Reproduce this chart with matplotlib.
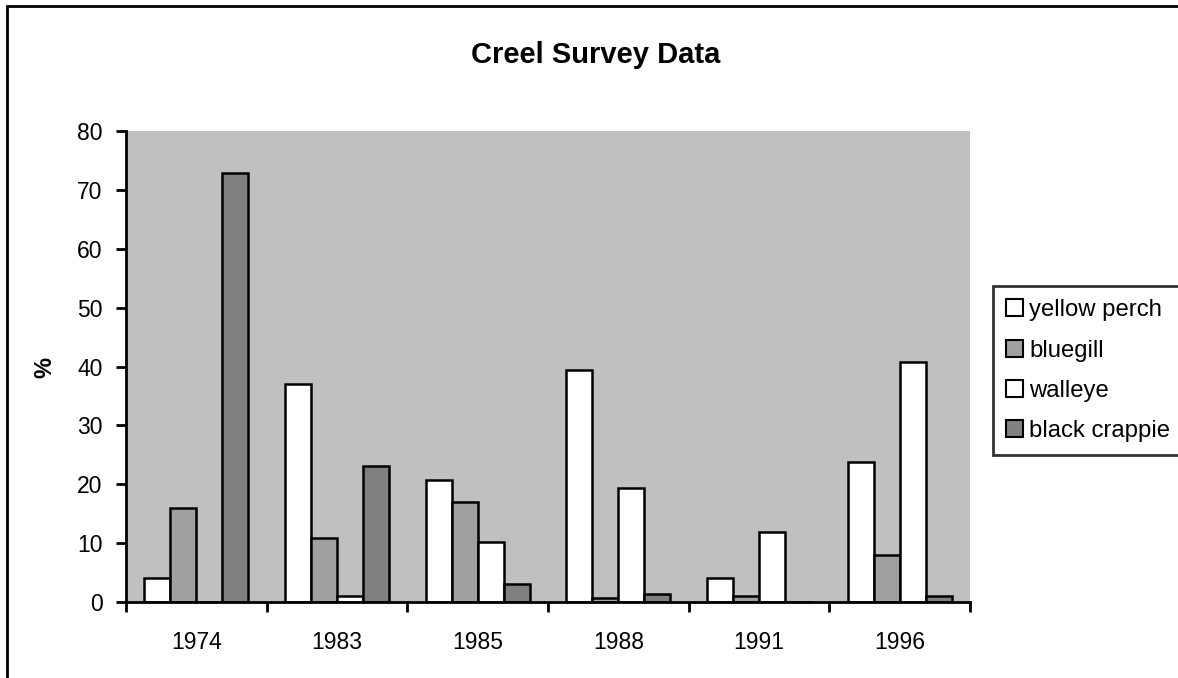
import numpy as np
import matplotlib
matplotlib.use("Agg")
import matplotlib.pyplot as plt
from matplotlib.patches import Rectangle

plt.rcParams['font.family'] = ['Liberation Sans', 'DejaVu Sans']

years = ["1974", "1983", "1985", "1988", "1991", "1996"]
yellow_perch = [4.1, 37.1, 20.8, 39.4, 4.1, 23.8]
bluegill = [16.0, 10.9, 17.0, 0.7, 1.1, 7.9]
walleye = [0.0, 1.1, 10.2, 19.4, 11.9, 40.8]
black_crappie = [72.8, 23.1, 3.1, 1.4, 0.0, 1.1]

series = [("yellow perch", yellow_perch, "white"),
          ("bluegill", bluegill, "#a0a0a0"),
          ("walleye", walleye, "white"),
          ("black crappie", black_crappie, "#808080")]

fig = plt.figure(figsize=(11.78, 6.78), dpi=100)
ax = fig.add_axes([126/1178, 1-602/678, 844/1178, 471/678])
ax.set_facecolor("#c0c0c0")

x = np.arange(len(years))
w = 0.185
for i, (name, vals, col) in enumerate(series):
    ax.bar(x + (i - 1.5) * w, vals, w, color=col, edgecolor="black",
           linewidth=1.8, label=name, zorder=3)

ax.set_xlim(-0.5, len(years) - 0.5)
ax.set_ylim(0, 80)
ax.set_yticks(range(0, 81, 10))
ax.set_xticks(x)
ax.set_xticklabels(years)
ax.set_xticks(np.arange(-0.5, len(years), 1), minor=True)
ax.tick_params(axis='x', which='major', length=0, pad=21, labelsize=16.5)
ax.tick_params(axis='x', which='minor', length=7, width=2, direction='out')
ax.tick_params(axis='y', length=7, width=2, direction='out', labelsize=16.5, pad=10)
for s in ['top', 'right']:
    ax.spines[s].set_visible(False)
for s in ['left', 'bottom']:
    ax.spines[s].set_linewidth(2)
    ax.spines[s].set_zorder(4)

fig.text(45/1178, 1-367/678, "%", rotation=90, ha='center', va='center',
         fontsize=17, fontweight='bold')
fig.text(596/1178, 1-55/678, "Creel Survey Data", ha='center', va='center',
         fontsize=21, fontweight='bold')

leg = fig.legend(loc='upper left', bbox_to_anchor=(993/1178, 1-286/678),
                 fontsize=17.2, frameon=True, fancybox=False, edgecolor='black',
                 handlelength=0.72, handleheight=0.72, handletextpad=0.25,
                 labelspacing=0.77, borderpad=0.55, borderaxespad=0)
leg.get_frame().set_linewidth(2)
for h in leg.legend_handles:
    h.set_linewidth(1.5)

# outer chart frame
fig.patches.append(Rectangle((7/1178, -0.1), 1.2, 1 - 6/678 + 0.1,
                             transform=fig.transFigure, fill=False,
                             edgecolor='black', linewidth=2))

fig.savefig("out.png", dpi=100)
